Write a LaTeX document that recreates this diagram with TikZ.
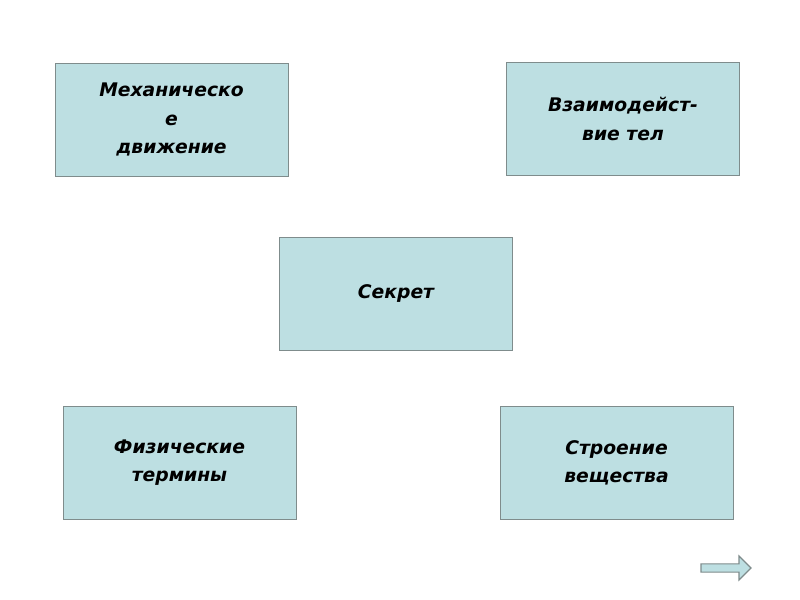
\documentclass[tikz,border=0pt]{standalone}
\usepackage{fontspec}
\setmainfont{DejaVu Sans}
\usetikzlibrary{shapes.arrows}
\definecolor{boxfill}{HTML}{BDDFE2}
\definecolor{boxline}{HTML}{7F8C8C}
\tikzset{
  topic/.style={draw=boxline, fill=boxfill, line width=0.8pt, minimum width=233*0.03cm,
    minimum height=113*0.03cm, align=center, font=\fontsize{16}{24}\selectfont\bfseries\itshape},
}
\begin{document}
\begin{tikzpicture}[x=0.03cm,y=-0.03cm]
  \useasboundingbox[fill=white] (0,0) rectangle (800,600);
  % Draw topic boxes
  \node[topic] (mech)  at (171.5,119.5) {Механическо\\е\\движение};
  \node[topic] (inter) at (623,119)     {Взаимодейст-\\вие тел};
  \node[topic] (secret) at (396,293.5)  {Секрет};
  \node[topic] (terms) at (179.5,462.5) {Физические\\термины};
  \node[topic] (matter) at (616.5,462.5) {Строение\\вещества};
  % Draw next arrow
  \node[single arrow, draw=boxline, fill=boxfill, line width=1pt, minimum width=24*0.03cm,
    single arrow head extend=0.1cm, minimum height=50*0.03cm, inner sep=1pt] (next) at (724,568) {};
\end{tikzpicture}
\end{document}
